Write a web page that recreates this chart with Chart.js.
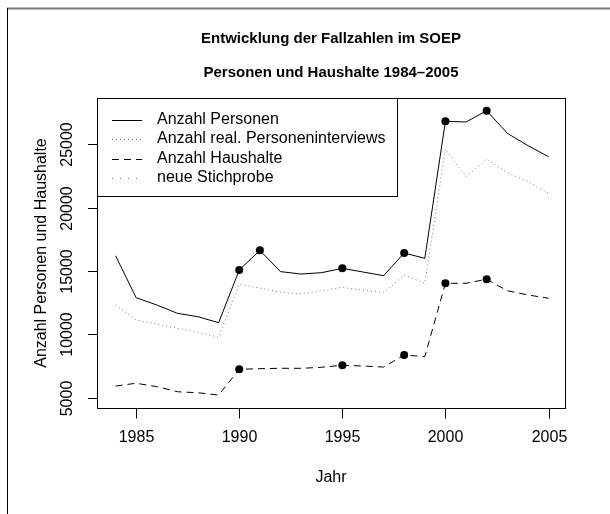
<!DOCTYPE html>
<html>
<head>
<meta charset="utf-8">
<script src="https://cdn.jsdelivr.net/npm/chart.js@4.4.1/dist/chart.umd.min.js"></script>
<style>
  html, body { margin: 0; padding: 0; background: #fff; }
</style>
</head>
<body>
<canvas id="myChart" width="610" height="514"></canvas>
<script>
const years = [1984, 1985, 1986, 1987, 1988, 1989, 1990, 1991, 1992, 1993, 1994,
  1995, 1996, 1997, 1998, 1999, 2000, 2001, 2002, 2003, 2004, 2005];
const personen = [16205, 12890, 12320, 11660, 11390, 10920, 15080, 16630, 14950, 14760, 14870,
  15210, 14920, 14630, 16420, 16000, 26820, 26760, 27650, 25870, 24900, 24020];
const interviews = [12320, 11130, 10820, 10480, 10160, 9770, 13950, 13650, 13320, 13190, 13440,
  13710, 13500, 13290, 14680, 14030, 24600, 22440, 23820, 22760, 22050, 21130];
const haushalte = [5920, 6140, 5870, 5470, 5390, 5210, 7240, 7290, 7320, 7320, 7400,
  7560, 7500, 7420, 8370, 8240, 14030, 14030, 14350, 13440, 13110, 12850];
// years with a new sample (marked with dots)
const stichprobePersonen = [1990, 1991, 1995, 1998, 2000, 2002];
const stichprobeHaushalte = [1990, 1995, 1998, 2000, 2002];
const xTicks = [1985, 1990, 1995, 2000, 2005];
const yTicks = [5000, 10000, 15000, 20000, 25000];

const FONT = "'Liberation Sans', Arial, Helvetica, sans-serif";

toPoints = (vals) => years.map((yr, i) => ({ x: yr, y: vals[i] }));

const decor = {
  id: "decor",
  afterDraw(chart) {
    const c = chart.ctx;
    const xs = chart.scales.x;
    const ys = chart.scales.y;
    const a = chart.chartArea;
    const L = Math.round(a.left) + 0.5, R = Math.round(a.right) + 0.5;
    const T = Math.round(a.top) + 0.5, B = Math.round(a.bottom) + 0.5;
    c.save();

    // outer frame (top + left)
    c.strokeStyle = "#777";
    c.lineWidth = 2;
    c.beginPath(); c.moveTo(7, 8.5); c.lineTo(610, 8.5); c.stroke();
    c.strokeStyle = "#000";
    c.lineWidth = 1;
    c.beginPath(); c.moveTo(7.5, 8); c.lineTo(7.5, 514); c.stroke();

    // plot box
    c.strokeStyle = "#000";
    c.lineWidth = 1;
    c.strokeRect(L, T, R - L, B - T);

    // x ticks + labels
    c.fillStyle = "#000";
    c.font = "16px " + FONT;
    c.textAlign = "center";
    c.textBaseline = "middle";
    xTicks.forEach((v) => {
      const px = Math.round(xs.getPixelForValue(v)) + 0.5;
      c.beginPath(); c.moveTo(px, B); c.lineTo(px, B + 10); c.stroke();
      c.fillText(String(v), px, 438);
    });

    // y ticks + rotated labels
    yTicks.forEach((v) => {
      const py = Math.round(ys.getPixelForValue(v)) + 0.5;
      c.beginPath(); c.moveTo(L - 9.5, py); c.lineTo(L, py); c.stroke();
      c.save();
      c.translate(68, py);
      c.rotate(-Math.PI / 2);
      c.fillText(String(v), 0, 0);
      c.restore();
    });

    // axis titles
    const cx = (a.left + a.right) / 2;
    const cy = (a.top + a.bottom) / 2;
    c.fillText("Jahr", cx, 478);
    c.save();
    c.translate(42, cy);
    c.rotate(-Math.PI / 2);
    c.fillText("Anzahl Personen und Haushalte", 0, 0);
    c.restore();

    // titles
    c.font = "bold 15px " + FONT;
    c.fillText("Entwicklung der Fallzahlen im SOEP", cx, 38.5);
    c.fillText("Personen und Haushalte 1984\u20132005", cx, 73);

    // legend
    const lx = L, ly = T, lw = 300, lh = 98;
    c.fillStyle = "#fff";
    c.fillRect(lx, ly, lw, lh);
    c.strokeStyle = "#000";
    c.strokeRect(lx, ly, lw, lh);
    const items = [
      { text: "Anzahl Personen", color: "#000", dash: [] },
      { text: "Anzahl real. Personeninterviews", color: "#777", dash: [1, 3] },
      { text: "Anzahl Haushalte", color: "#000", dash: [7, 5] },
      { text: "neue Stichprobe", color: "#777", dash: [1, 7] },
    ];
    const rows = [119.5, 139, 158.5, 178];
    c.font = "16px " + FONT;
    c.textAlign = "left";
    items.forEach((it, i) => {
      const yy = Math.round(rows[i]) + 0.5;
      c.strokeStyle = it.color;
      c.setLineDash(it.dash);
      c.beginPath(); c.moveTo(112, yy); c.lineTo(142, yy); c.stroke();
      c.setLineDash([]);
      c.fillStyle = "#000";
      c.fillText(it.text, 157, rows[i]);
    });
    c.restore();
  },
};

const ctx = document.getElementById("myChart");
new Chart(ctx, {
  type: "line",
  data: {
    datasets: [
      {
        label: "Anzahl Personen",
        data: toPoints(personen),
        borderColor: "#000",
        borderWidth: 1,
        pointRadius: (p) => (stichprobePersonen.includes(years[p.dataIndex]) ? 4 : 0),
        pointBackgroundColor: "#000",
        pointBorderWidth: 0,
      },
      {
        label: "Anzahl real. Personeninterviews",
        data: toPoints(interviews),
        borderColor: "#777",
        borderWidth: 1,
        borderDash: [1, 3],
        pointRadius: 0,
      },
      {
        label: "Anzahl Haushalte",
        data: toPoints(haushalte),
        borderColor: "#000",
        borderWidth: 1,
        borderDash: [7, 5],
        pointRadius: (p) => (stichprobeHaushalte.includes(years[p.dataIndex]) ? 4 : 0),
        pointBackgroundColor: "#000",
        pointBorderWidth: 0,
      },
    ],
  },
  options: {
    responsive: false,
    animation: false,
    events: [],
    layout: { padding: { left: 97, top: 98, right: 45, bottom: 106 } },
    scales: {
      x: { type: "linear", min: 1983.1, max: 2005.8, display: false },
      y: { type: "linear", min: 4187, max: 28654, display: false },
    },
    plugins: {
      legend: { display: false },
      title: { display: false },
      tooltip: { enabled: false },
    },
  },
  plugins: [decor],
});
</script>
</body>
</html>
